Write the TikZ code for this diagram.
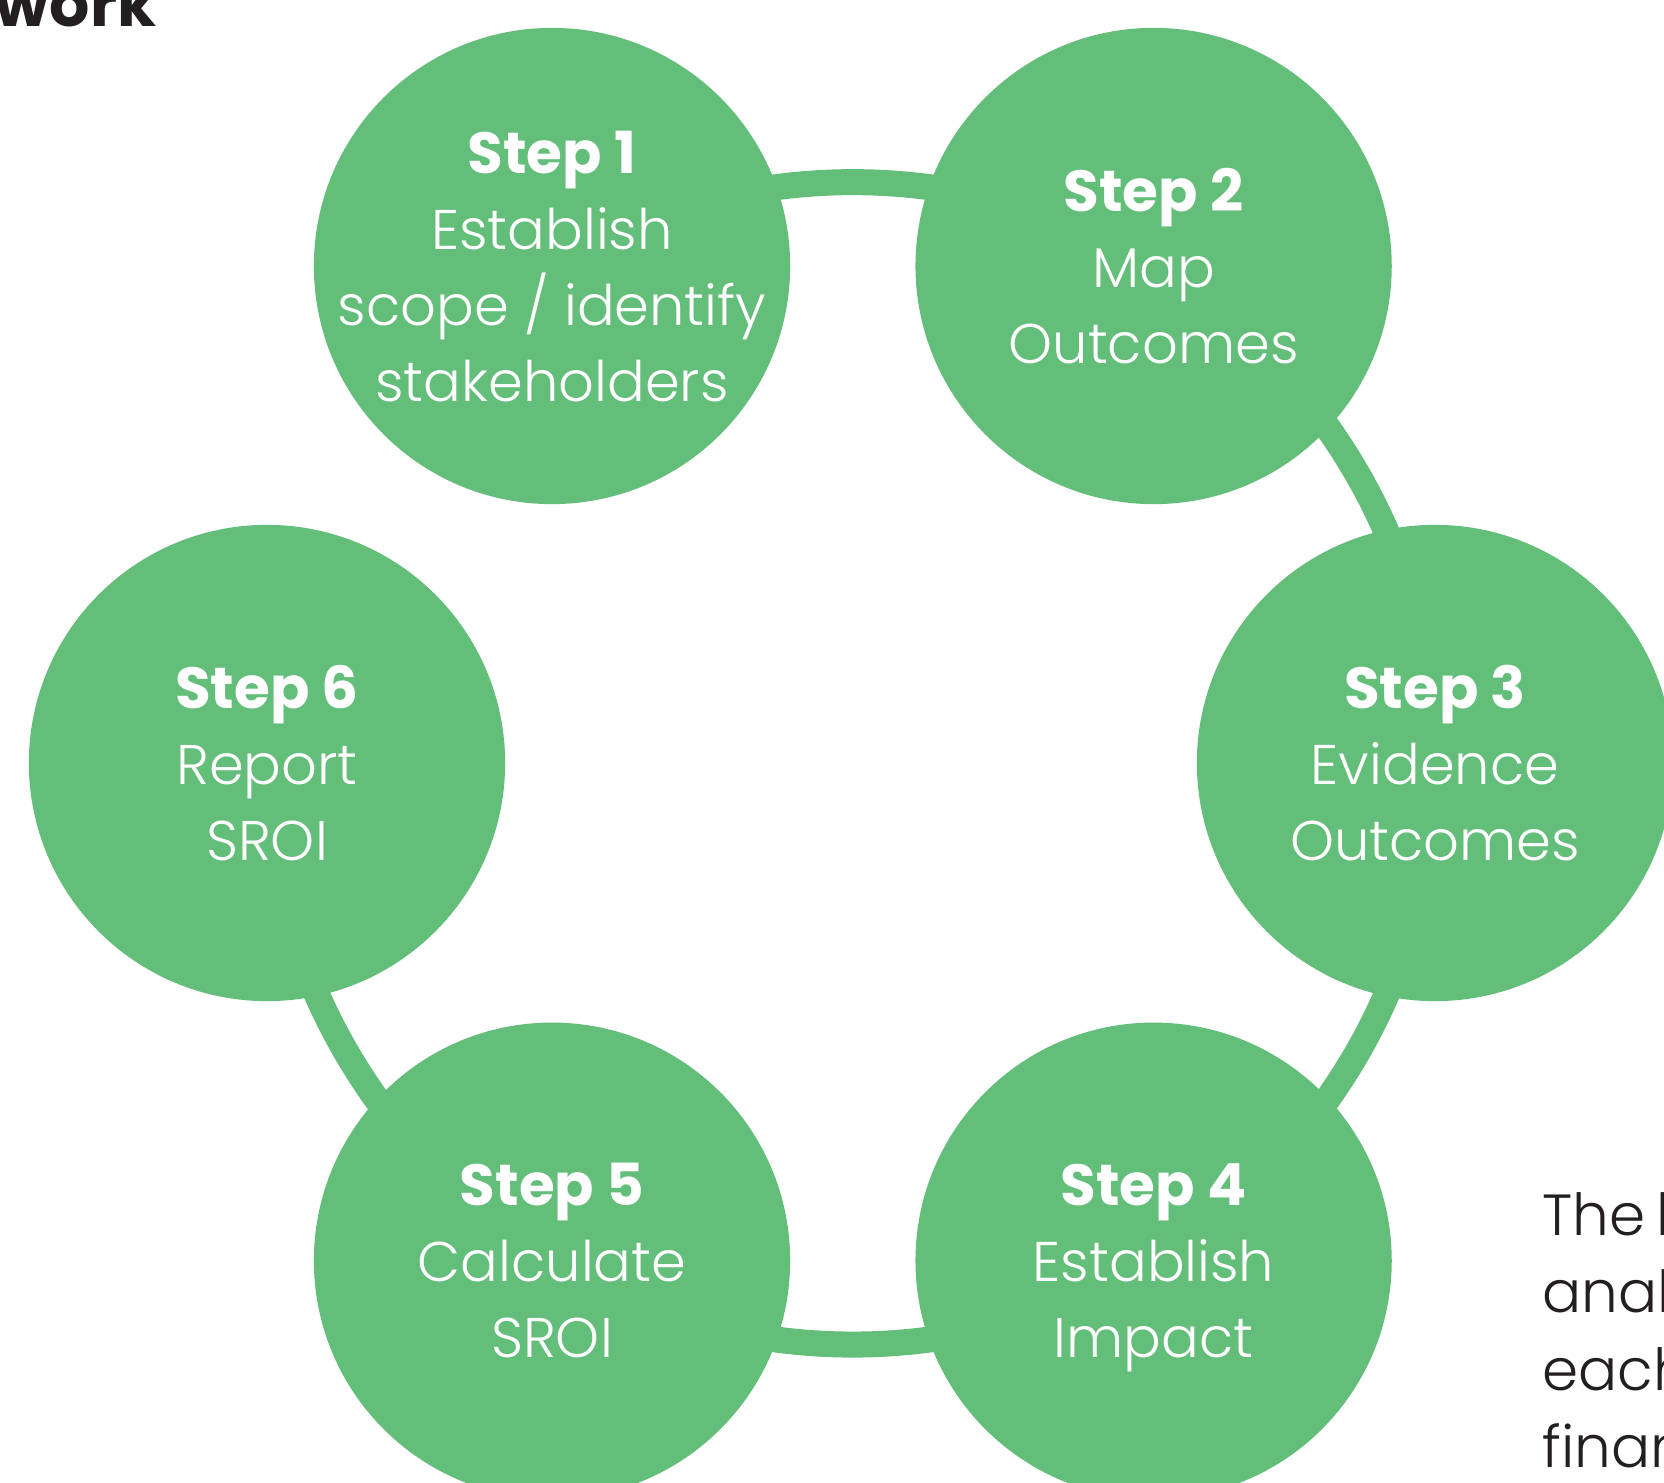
\documentclass[tikz,border=0pt]{standalone}
\usepackage{fontspec}
\IfFontExistsTF{Poppins Light}{\setmainfont{Poppins Light}[BoldFont={Poppins Bold}]}{\setmainfont{Poppins}}
\usepackage{tikz}
\usetikzlibrary{positioning}
\definecolor{sroigreen}{HTML}{63BE7A}
\definecolor{inkdark}{HTML}{231F20}
\newcommand\stephead[1]{{\fontsize{16.5pt}{21.6pt}\selectfont\bfseries Step #1}}

\begin{document}
\begin{tikzpicture}[x=0.01cm, y=-0.01cm,
        stepcirc/.style={circle, fill=sroigreen, minimum size=4.76cm, inner sep=0pt},
        steptxt/.style={text=white, align=center, text depth=0pt, font=\fontsize{15.9pt}{21.6pt}\selectfont},
        ringarc/.style={draw=sroigreen, line width=0.26cm},
        sidetxt/.style={text=inkdark, align=left, anchor=base west, inner sep=0pt, font=\fontsize{16.5pt}{21.9pt}\selectfont}]
        \clip (0,0) rectangle (1664,1482);

        % Step circles
        \node[stepcirc] (s1) at (552,266) {};
        \node[stepcirc] (s2) at (1153.6,266) {};
        \node[stepcirc] (s3) at (1435,763) {};
        \node[stepcirc] (s4) at (1153.6,1260.7) {};
        \node[stepcirc] (s5) at (552,1260.7) {};
        \node[stepcirc] (s6) at (267,763) {};

        % Ring (no link from step 6 back to step 1)
        \draw[ringarc] (s1.center) to[bend left=31.2, looseness=0.92] (s2.center);
        \draw[ringarc] (s2.center) to[bend left=29.4, looseness=0.91] (s3.center);
        \draw[ringarc] (s3.center) to[bend left=29.4, looseness=0.91] (s4.center);
        \draw[ringarc] (s4.center) to[bend left=31.2, looseness=0.92] (s5.center);
        \draw[ringarc] (s5.center) to[bend left=29.4, looseness=0.91] (s6.center);

        % Labels
        \node[steptxt] (t1) at (s1) {\stephead{1}\\Establish\\scope / identify\\stakeholders};
        \node[steptxt] (t2) at (s2) {\stephead{2}\\Map\\Outcomes};
        \node[steptxt] (t3) at (s3) {\stephead{3}\\Evidence\\Outcomes};
        \node[steptxt] (t4) at (s4) {\stephead{4}\\Establish\\Impact};
        \node[steptxt] (t5) at (s5) {\stephead{5}\\Calculate\\SROI};
        \node[steptxt] (t6) at (s6) {\stephead{6}\\Report\\SROI};

        % Cut-off page text
        \node[text=inkdark, anchor=base east, inner sep=0pt, font=\fontsize{18pt}{20pt}\selectfont\bfseries] (title) at (157,27) {work};
        \node[sidetxt] (side) at (1542,1467) {The\hspace{0.18em}l\\analy\\each\\finan};
\end{tikzpicture}
\end{document}
